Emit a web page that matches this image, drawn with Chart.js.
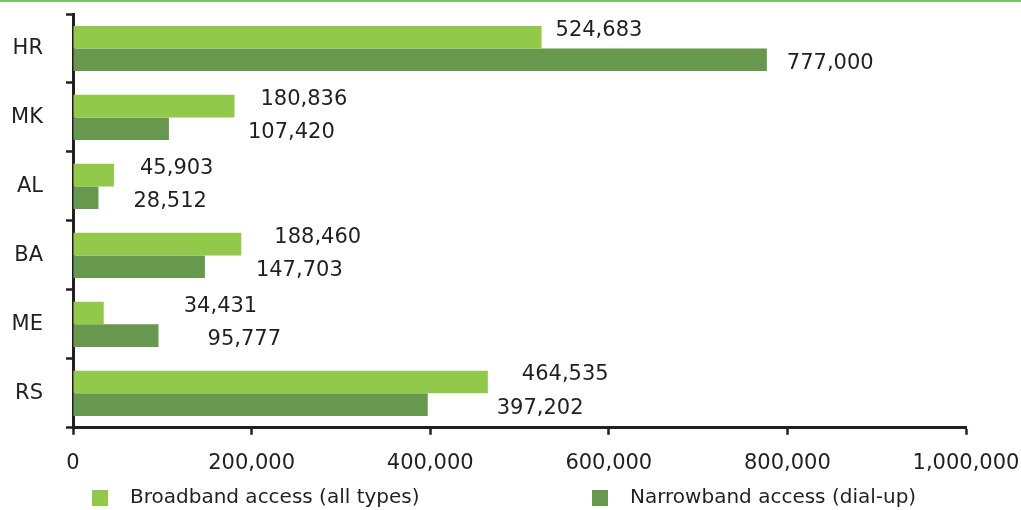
<!DOCTYPE html>
<html>
<head>
<meta charset="utf-8">
<script src="https://cdn.jsdelivr.net/npm/chart.js@4.4.1/dist/chart.umd.min.js"></script>
<style>
  html, body { margin: 0; padding: 0; background: #fff; }
  #wrap { width: 1021px; height: 510px; }
</style>
</head>
<body>
<div id="wrap"><canvas id="access-chart" width="1021" height="510"></canvas></div>
<script>
var countries = ['HR', 'MK', 'AL', 'BA', 'ME', 'RS'];
var broadband = [524683, 180836, 45903, 188460, 34431, 464535];
var narrowband = [777000, 107420, 28512, 147703, 95777, 397202];
var xTicks = [0, 200000, 400000, 600000, 800000, 1000000];

// hand-placed label gaps (px past the bar end), as in the original layout
var broadbandGap = [14, 26, 26, 33, 80, 34];
var narrowbandGap = [20, 79, 35, 51, 49, 69];

var LIGHT = '#92c94a';
var DARK = '#67984e';
var INK = '#231f20';
var FONT = "'DejaVu Sans', sans-serif";

function fmt(v) {
    return v.toLocaleString('en-US');
}

var extras = {
    id: 'extras',
    afterDraw: function(chart) {
        var ctx = chart.ctx;
        var area = chart.chartArea;
        ctx.save();

        // thin green rule across the top
        ctx.fillStyle = '#7cc466';
        ctx.fillRect(0, 0, chart.width, 2);

        // value labels
        ctx.font = '21px ' + FONT;
        ctx.fillStyle = INK;
        ctx.textAlign = 'left';
        ctx.textBaseline = 'middle';
        var gaps = [broadbandGap, narrowbandGap];
        var dy = [-7, 4];
        chart.data.datasets.forEach(function(ds, di) {
            chart.getDatasetMeta(di).data.forEach(function(bar, i) {
                ctx.fillText(fmt(ds.data[i]), bar.x + gaps[di][i], bar.y + dy[di]);
            });
        });

        // legend
        ctx.font = '20px ' + FONT;
        var items = [
            { text: chart.data.datasets[0].label, color: LIGHT, x: area.left + 19 },
            { text: chart.data.datasets[1].label, color: DARK, x: area.left + 519 }
        ];
        var ly = chart.height - 12;
        items.forEach(function(it) {
            ctx.fillStyle = it.color;
            ctx.fillRect(it.x, ly - 8, 16, 16);
            ctx.fillStyle = INK;
            ctx.fillText(it.text, it.x + 38, ly);
        });
        ctx.restore();
    }
};

// keep the layout padding in charge of the plot edges
function noOverhang(scale) {
    scale.paddingTop = 0;
    scale.paddingBottom = 0;
    scale.paddingLeft = 0;
    scale.paddingRight = 0;
}

new Chart(document.getElementById('access-chart'), {
    type: 'bar',
    data: {
        labels: countries,
        datasets: [{
            label: 'Broadband access (all types)',
            data: broadband,
            backgroundColor: LIGHT
        }, {
            label: 'Narrowband access (dial-up)',
            data: narrowband,
            backgroundColor: DARK
        }]
    },
    options: {
        indexAxis: 'y',
        responsive: false,
        animation: false,
        categoryPercentage: 0.655,
        barPercentage: 1,
        layout: {
            padding: { top: 14, right: 55, bottom: 18, left: 0 }
        },
        plugins: {
            legend: { display: false },
            tooltip: { enabled: false }
        },
        scales: {
            x: {
                min: 0,
                max: 1000000,
                afterBuildTicks: function(scale) {
                    scale.ticks = xTicks.map(function(v) { return { value: v }; });
                },
                grid: {
                    drawOnChartArea: false,
                    tickLength: 7,
                    tickColor: INK,
                    tickWidth: 2.5
                },
                border: { color: INK, width: 3 },
                ticks: {
                    padding: 16,
                    color: INK,
                    font: { family: FONT, size: 21 },
                    callback: function(v) { return fmt(v); }
                },
                afterFit: noOverhang
            },
            y: {
                grid: {
                    offset: true,
                    drawOnChartArea: false,
                    tickLength: 7,
                    tickColor: INK,
                    tickWidth: 2.5
                },
                border: { color: INK, width: 3 },
                ticks: {
                    padding: 23,
                    color: INK,
                    font: { family: FONT, size: 21 }
                },
                afterFit: function(scale) {
                    noOverhang(scale);
                    scale.width = 73;
                }
            }
        }
    },
    plugins: [extras]
});
</script>
</body>
</html>
